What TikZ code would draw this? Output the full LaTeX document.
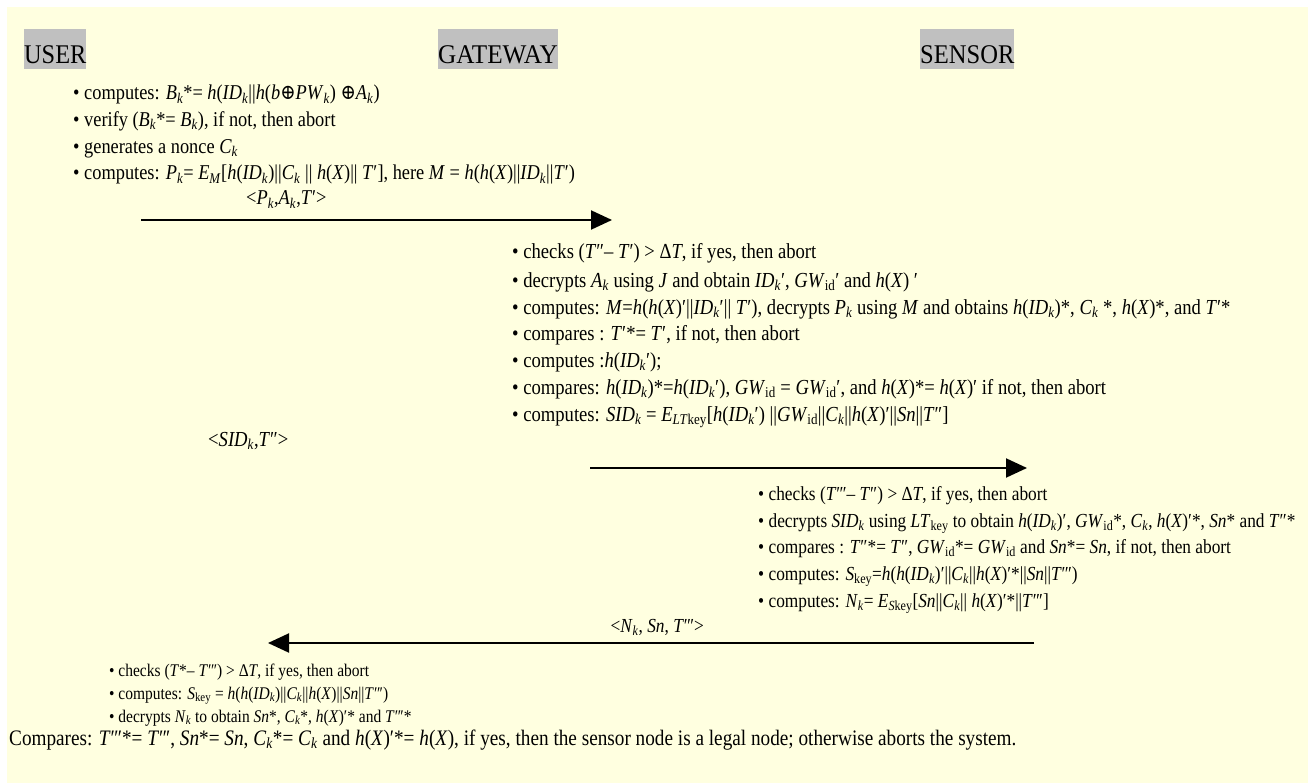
\documentclass[tikz,border=0pt]{standalone}
\usepackage{fontspec}
\setmainfont{Liberation Serif}
\newfontfamily\symf{DejaVu Serif}
\usetikzlibrary{arrows.meta}
\definecolor{bgy}{HTML}{FFFFE0}
\definecolor{hdrg}{HTML}{C0C0C0}
\newcommand\mi[1]{\textit{#1}}
\newcommand\sbs[1]{\textsubscript{#1}}
\newcommand\kk{\textsubscript{\textit{k}}}
\newcommand\prA{′}
\newcommand\prB{″}
\newcommand\prC{″\kern-0.05em′}
\newcommand\xor{{\symf ⊕}}
\newcommand\cz[1]{\scalebox{0.87}[1]{#1}}
\begin{document}
\begin{tikzpicture}[x=1pt,y=-1pt,
  hdr/.style={fill=hdrg, inner sep=0pt, text height=34pt, text depth=6pt, anchor=north west, font=\fontsize{27}{27}\selectfont},
  tU/.style={anchor=base west, inner sep=0pt, font=\fontsize{21.1}{21.1}\selectfont},
  tA/.style={anchor=base west, inner sep=0pt, font=\fontsize{21.4}{21.4}\selectfont},
  tS/.style={anchor=base west, inner sep=0pt, font=\fontsize{19.9}{19.9}\selectfont},
  tB/.style={anchor=base west, inner sep=0pt, font=\fontsize{17.8}{17.8}\selectfont},
  tC/.style={anchor=base west, inner sep=0pt, font=\fontsize{22.1}{22.1}\selectfont},
  msg/.style={line width=2pt, -{Triangle[length=21pt,width=19pt]}}]
\useasboundingbox (0,0) rectangle (1308,783);
\fill[bgy] (7,7) rectangle (1308,783);
% headers
\node[hdr] (user) at (24,29) {\scalebox{0.9}[1]{USER}};
\node[hdr] (gw) at (438,29) {\scalebox{0.935}[1]{GATEWAY}};
\node[hdr] (sen) at (920,29) {\scalebox{0.91}[1]{SENSOR}};
% user block
\node[tU] (u1) at (73,100) {\cz{• computes: \mi{B}\kk*= \mi{h}(\mi{ID}\kk||\mi{h}(\mi{b}\xor\mi{PW}\kk) \xor\mi{A}\kk)}};
\node[tU] (u2) at (73,126.7) {\cz{• verify (\mi{B}\kk*= \mi{B}\kk), if not, then abort}};
\node[tU] (u3) at (73,153.4) {\cz{• generates a nonce \mi{C}\kk}};
\node[tU] (u4) at (73,180) {\cz{• computes: \mi{P}\kk= \mi{E}\sbs{\mi{M}}[\mi{h}(\mi{ID}\kk)||\mi{C}\kk{} || \mi{h}(\mi{X})|| \mi{T}\prA], here \mi{M} = \mi{h}(\mi{h}(\mi{X})||\mi{ID}\kk||\mi{T}\prA)}};
\node[tU] (l1) at (246,205) {\cz{<\mi{P}\kk,\mi{A}\kk,\mi{T}\prA>}};
\coordinate (a1s) at (141,220);
\coordinate (a1e) at (612,220);
\draw[msg] (a1s) -- (a1e);
% gateway block
\node[tA] (g1) at (512,259) {\cz{• checks (\mi{T}\prB– \mi{T}\prA) > Δ\mi{T}, if yes, then abort}};
\node[tA] (g2) at (512,287.7) {\cz{• decrypts \mi{A}\kk{} using \mi{J} and obtain \mi{ID}\kk\prA, \mi{GW}\sbs{id}\prA{} and \mi{h}(\mi{X}) \prA}};
\node[tA] (g3) at (512,314.3) {\cz{• computes: \mi{M}=\mi{h}(\mi{h}(\mi{X})\prA||\mi{ID}\kk\prA|| \mi{T}\prA), decrypts \mi{P}\kk{} using \mi{M} and obtains \mi{h}(\mi{ID}\kk)*, \mi{C}\kk{} *, \mi{h}(\mi{X})*, and \mi{T}\prA*}};
\node[tA] (g4) at (512,341) {\cz{• compares : \mi{T}\prA*= \mi{T}\prA, if not, then abort}};
\node[tA] (g5) at (512,367.7) {\cz{• computes :\mi{h}(\mi{ID}\kk\prA);}};
\node[tA] (g6) at (512,394.3) {\cz{• compares: \mi{h}(\mi{ID}\kk)*=\mi{h}(\mi{ID}\kk\prA), \mi{GW}\sbs{id} = \mi{GW}\sbs{id}\prA, and \mi{h}(\mi{X})*= \mi{h}(\mi{X})\prA{} if not, then abort}};
\node[tA] (g7) at (512,421) {\cz{• computes: \mi{SID}\kk{} = \mi{E}\sbs{\mi{LT}key}[\mi{h}(\mi{ID}\kk\prA) ||\mi{GW}\sbs{id}||\mi{C}\kk||\mi{h}(\mi{X})\prA||\mi{Sn}||\mi{T}\prB]}};
\node[tA] (l2) at (208,446) {\cz{<\mi{SID}\kk,\mi{T}\prB>}};
\coordinate (a2s) at (590,468);
\coordinate (a2e) at (1027,468);
\draw[msg] (a2s) -- (a2e);
% sensor block
\node[tS] (s1) at (758,500) {\cz{• checks (\mi{T}\prC– \mi{T}\prB) > Δ\mi{T}, if yes, then abort}};
\node[tS] (s2) at (758,527) {\cz{• decrypts \mi{SID}\kk{} using \mi{LT}\sbs{key} to obtain \mi{h}(\mi{ID}\kk)\prA, \mi{GW}\sbs{id}*, \mi{C}\kk, \mi{h}(\mi{X})\prA*, \mi{Sn}* and \mi{T}\prB*}};
\node[tS] (s3) at (758,553.5) {\cz{• compares : \mi{T}\prB*= \mi{T}\prB, \mi{GW}\sbs{id}*= \mi{GW}\sbs{id} and \mi{Sn}*= \mi{Sn}, if not, then abort}};
\node[tS] (s4) at (758,580) {\cz{• computes: \mi{S}\sbs{key}=\mi{h}(\mi{h}(\mi{ID}\kk)\prA||\mi{C}\kk||\mi{h}(\mi{X})\prA*||\mi{Sn}||\mi{T}\prC)}};
\node[tS] (s5) at (758,607) {\cz{• computes: \mi{N}\kk= \mi{E}\sbs{\mi{S}key}[\mi{Sn}||\mi{C}\kk|| \mi{h}(\mi{X})\prA*||\mi{T}\prC]}};
\node[tS, anchor=base east] (l3) at (704,632) {\cz{<\mi{N}\kk, \mi{Sn}, \mi{T}\prC>}};
\coordinate (a3s) at (1034,643);
\coordinate (a3e) at (268,643);
\draw[msg] (a3s) -- (a3e);
% user final block
\node[tB] (b1) at (109,676) {\cz{• checks (\mi{T}*– \mi{T}\prC) > Δ\mi{T}, if yes, then abort}};
\node[tB] (b2) at (109,699) {\cz{• computes: \mi{S}\sbs{key} = \mi{h}(\mi{h}(\mi{ID}\kk)||\mi{C}\kk||\mi{h}(\mi{X})||\mi{Sn}||\mi{T}\prC)}};
\node[tB] (b3) at (109,722) {\cz{• decrypts \mi{N}\kk{} to obtain \mi{Sn}*, \mi{C}\kk*, \mi{h}(\mi{X})\prA* and \mi{T}\prC*}};
\node[tC] (b4) at (9,745) {\cz{Compares: \mi{T}\prC*= \mi{T}\prC, \mi{Sn}*= \mi{Sn}, \mi{C}\kk*= \mi{C}\kk{} and \mi{h}(\mi{X})\prA*= \mi{h}(\mi{X}), if yes, then the sensor node is a legal node; otherwise aborts the system.}};
\end{tikzpicture}
\end{document}
